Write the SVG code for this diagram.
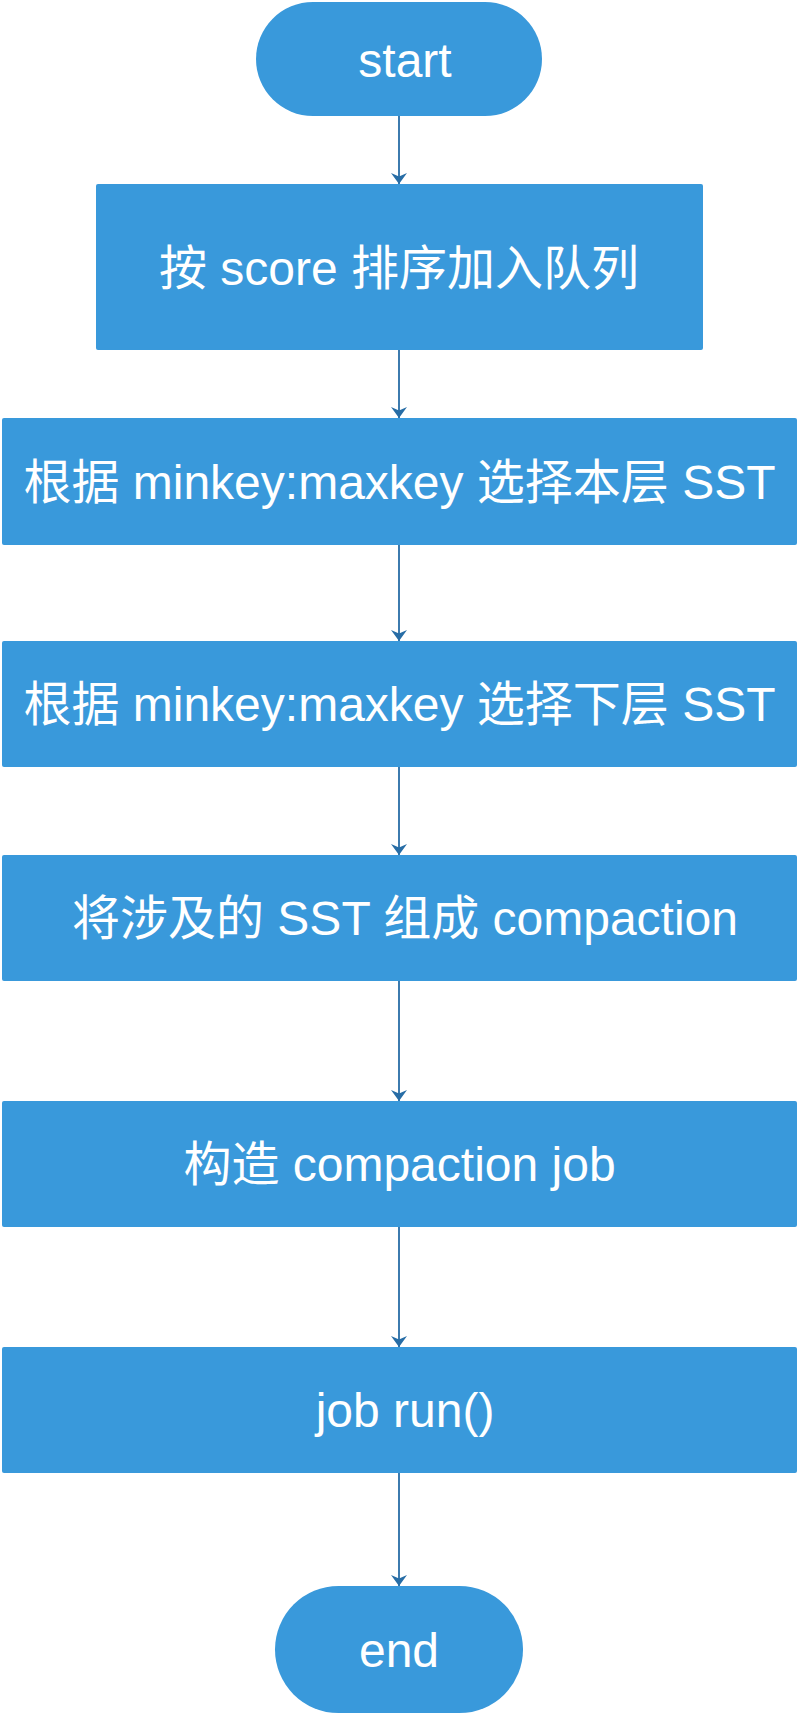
<svg xmlns="http://www.w3.org/2000/svg" width="798" height="1714" viewBox="0 0 798 1714">
<style>
.n{fill:#3999db;}
.t{fill:#ffffff;font-family:"Liberation Sans","Noto Sans CJK SC",sans-serif;font-size:48px;text-anchor:middle;}
.c{stroke:#276da6;stroke-width:1.8;fill:none;}
</style>
<defs>
<marker id="ah" markerUnits="userSpaceOnUse" viewBox="0 0 11 16" markerWidth="11" markerHeight="16" refX="11" refY="8" orient="auto">
<path d="M0,0 L11,8 L0,16 L3.5,8 Z" fill="#276da6"/>
</marker>
</defs>
<g id="connectors">
<line class="c" x1="399" y1="116" x2="399" y2="184" marker-end="url(#ah)"/>
<line class="c" x1="399" y1="350" x2="399" y2="418" marker-end="url(#ah)"/>
<line class="c" x1="399" y1="545" x2="399" y2="641" marker-end="url(#ah)"/>
<line class="c" x1="399" y1="767" x2="399" y2="855" marker-end="url(#ah)"/>
<line class="c" x1="399" y1="981" x2="399" y2="1101" marker-end="url(#ah)"/>
<line class="c" x1="399" y1="1227" x2="399" y2="1347" marker-end="url(#ah)"/>
<line class="c" x1="399" y1="1473" x2="399" y2="1586" marker-end="url(#ah)"/>
</g>
<g id="start">
<rect class="n" x="256" y="2" width="286" height="114" rx="57" ry="57"/>
<text class="t" x="405" y="77">start</text>
</g>
<g id="step1">
<rect class="n" x="96" y="184" width="607" height="166" rx="2"/>
<text class="t" x="399" y="285">按 score 排序加入队列</text>
</g>
<g id="step2">
<rect class="n" x="2" y="418" width="795" height="127" rx="2"/>
<text class="t" x="399.5" y="499">根据 minkey:maxkey 选择本层 SST</text>
</g>
<g id="step3">
<rect class="n" x="2" y="641" width="795" height="126" rx="2"/>
<text class="t" x="399.5" y="721">根据 minkey:maxkey 选择下层 SST</text>
</g>
<g id="step4">
<rect class="n" x="2" y="855" width="795" height="126" rx="2"/>
<text class="t" x="405" y="935">将涉及的 SST 组成 compaction</text>
</g>
<g id="step5">
<rect class="n" x="2" y="1101" width="795" height="126" rx="2"/>
<text class="t" x="399.5" y="1181">构造 compaction job</text>
</g>
<g id="step6">
<rect class="n" x="2" y="1347" width="795" height="126" rx="2"/>
<text class="t" x="405" y="1427">job run()</text>
</g>
<g id="end">
<rect class="n" x="275" y="1586" width="248" height="127" rx="63.5" ry="63.5"/>
<text class="t" x="399" y="1667">end</text>
</g>
</svg>
